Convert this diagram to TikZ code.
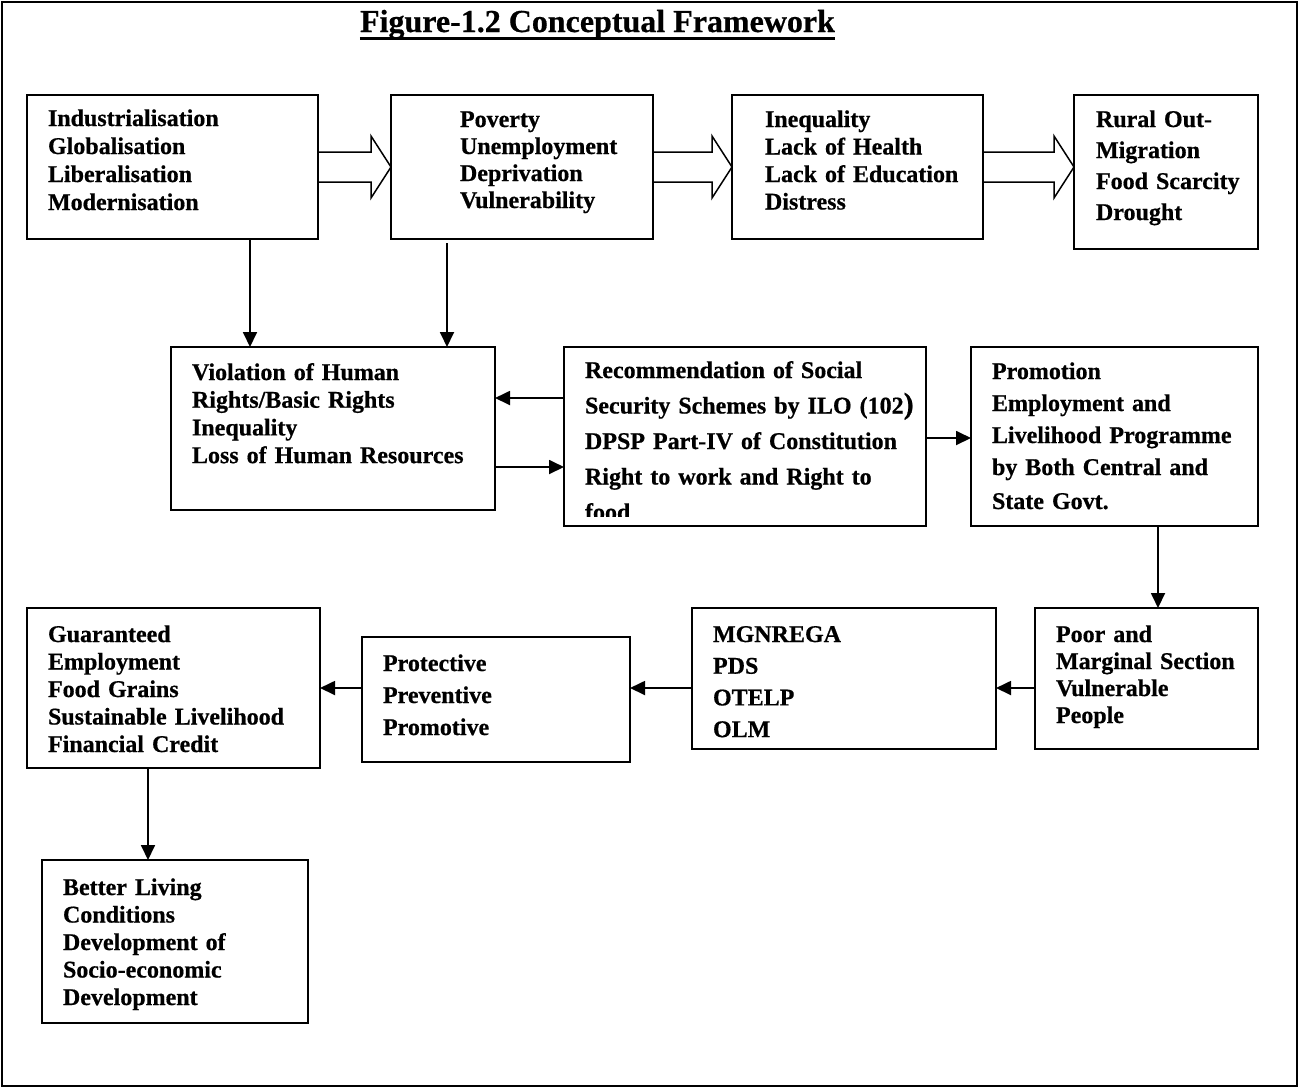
\documentclass[tikz,border=0pt]{standalone}
\usepackage{fontspec}
\setmainfont{Liberation Serif}[BoldFeatures={FakeBold=0.6}]
\usetikzlibrary{arrows.meta,calc}
\begin{document}
\begin{tikzpicture}[x=1pt,y=-1pt,
  box/.style={draw,line width=1.8pt,rectangle,inner sep=0pt,outer sep=0pt,anchor=north west},
  txt/.style={anchor=base west,inner sep=0pt,outer sep=0pt,align=left,text width=360pt,font=\bfseries\fontsize{24pt}{#1}\selectfont},
  arr/.style={line width=1.8pt,-{Triangle[length=15pt,width=14pt]}},
  blockarr/.style={line width=1.5pt,line join=miter}]
\useasboundingbox (0,0) rectangle (1300,1088);
\draw[line width=2pt] (2,2) rectangle (1297,1086);

% title
\node[anchor=base,inner sep=0pt,font=\bfseries\fontsize{32pt}{36pt}\selectfont] (title) at (597.5,32) {Figure-1.2 Conceptual Framework};
\draw[line width=3.5pt] ([yshift=-6.5pt]title.base west) -- ([yshift=-6.5pt]title.base east);

% boxes
\node[box,minimum width=291pt,minimum height=144pt] (A) at (27,95) {};
\node[box,minimum width=262pt,minimum height=144pt] (B) at (391,95) {};
\node[box,minimum width=251pt,minimum height=144pt] (C) at (732,95) {};
\node[box,minimum width=184pt,minimum height=154pt] (D) at (1074,95) {};
\node[box,minimum width=324pt,minimum height=163pt] (E) at (171,347) {};
\node[box,minimum width=362pt,minimum height=179pt] (F) at (564,347) {};
\node[box,minimum width=287pt,minimum height=179pt] (G) at (971,347) {};
\node[box,minimum width=223pt,minimum height=141pt] (H) at (1035,608) {};
\node[box,minimum width=304pt,minimum height=141pt] (I) at (692,608) {};
\node[box,minimum width=268pt,minimum height=125pt] (J) at (362,637) {};
\node[box,minimum width=293pt,minimum height=160pt] (K) at (27,608) {};
\node[box,minimum width=266pt,minimum height=163pt] (L) at (42,860) {};

% texts
\node[txt=28pt] (At) at (48,126) {Industrialisation\\Globalisation\\Liberalisation\\Modernisation};
\node[txt=27pt] (Bt) at (460,127) {Poverty\\Unemployment\\Deprivation\\Vulnerability};
\node[txt=27.5pt] (Ct) at (765,127) {Inequality\\Lack of Health\\Lack of Education\\Distress};
\node[txt=31pt] (Dt) at (1096,127) {Rural Out-\\Migration\\Food Scarcity\\Drought};
\node[txt=27.7pt] (Et) at (192,380) {Violation of Human\\Rights/Basic Rights\\Inequality\\Loss of Human Resources};
\begin{scope}
\clip (564,347) rectangle (926,516);
\node[txt=35.5pt] (Ft) at (585,378) {Recommendation of Social\\Security Schemes by ILO (102{\fontsize{30pt}{30pt}\selectfont )}\\DPSP Part-IV of Constitution\\Right to work and Right to\\food};
\end{scope}
\node[txt=32pt] (Gt) at (992,379) {Promotion\\Employment and\\Livelihood Programme\\by Both Central and\\[2pt]State Govt.};
\node[txt=27pt] (Ht) at (1056,642) {Poor and\\Marginal Section\\Vulnerable\\People};
\node[txt=31.7pt] (It) at (713,642) {MGNREGA\\PDS\\OTELP\\OLM};
\node[txt=32pt] (Jt) at (383,671) {Protective\\Preventive\\Promotive};
\node[txt=27.5pt] (Kt) at (48,642) {Guaranteed\\Employment\\Food Grains\\Sustainable Livelihood\\Financial Credit};
\node[txt=27.5pt] (Lt) at (63,895) {Better Living\\Conditions\\Development of\\Socio-economic\\Development};

% block arrows
\coordinate (tAB) at (B.west |- A.east);
\coordinate (tBC) at (C.west |- B.east);
\coordinate (tCD) at (D.west |- C.east);
\foreach \s/\t in {A/tAB,B/tBC,C/tCD}{
  \draw[blockarr] ($(\s.east)+(0,-15)$) -- ($(\t)+(-20,-15)$) -- ($(\t)+(-20,-31)$) -- (\t)
     -- ($(\t)+(-20,31)$) -- ($(\t)+(-20,15)$) -- ($(\s.east)+(0,15)$);
}

% guide coordinates
\coordinate (xAE) at (250,0);
\coordinate (xBE) at (447,0);
\coordinate (yFE) at (0,398);
\coordinate (yEF) at (0,467);
\coordinate (yFG) at (0,438);
\coordinate (xGH) at (1158,0);
\coordinate (yrow) at (0,688);
\coordinate (xKL) at (148,0);

% connectors
\draw[arr] (A.south -| xAE) -- (E.north -| xAE);
\draw[arr] ($(B.south -| xBE)+(0,4)$) -- (E.north -| xBE);
\draw[arr] (F.west |- yFE) -- (E.east |- yFE);
\draw[arr] (E.east |- yEF) -- (F.west |- yEF);
\draw[arr] (F.east |- yFG) -- (G.west |- yFG);
\draw[arr] (G.south -| xGH) -- (H.north -| xGH);
\draw[arr] (H.west |- yrow) -- (I.east |- yrow);
\draw[arr] (I.west |- yrow) -- (J.east |- yrow);
\draw[arr] (J.west |- yrow) -- (K.east |- yrow);
\draw[arr] (K.south -| xKL) -- (L.north -| xKL);
\end{tikzpicture}
\end{document}
